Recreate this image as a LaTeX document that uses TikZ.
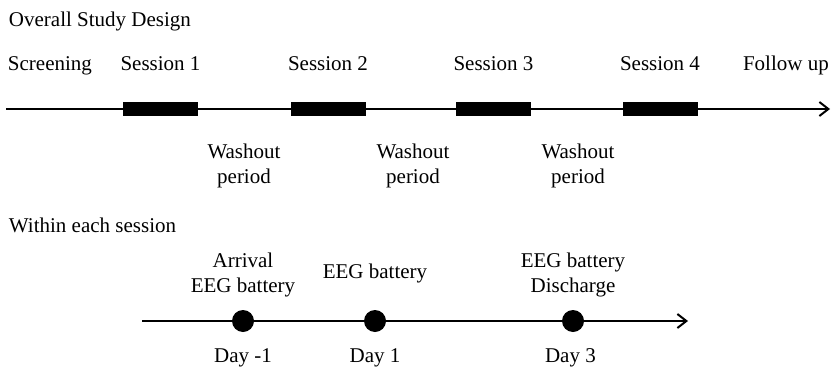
\documentclass[tikz,border=0pt]{standalone}
\usepackage{fontspec}
\setmainfont{Liberation Serif}
\usetikzlibrary{arrows.meta}
\begin{document}
\begin{tikzpicture}[x=1pt,y=-1pt,line width=2pt,>={Straight Barb[length=9pt,width=14pt]},
  txt/.style={font=\fontsize{21}{25}\selectfont,inner sep=0pt,align=center},
  sessbar/.style={fill=black,draw=none,minimum width=75pt,minimum height=14pt,inner sep=0pt},
  daydot/.style={circle,fill=black,minimum size=22pt,inner sep=0pt}]
  \useasboundingbox (0,0) rectangle (832,372);

  % overall study design
  \node[txt,anchor=base west] (overall) at (8,26) {Overall Study Design};
  \coordinate (ts) at (6,109);
  \coordinate (te) at (830,109);
  \draw[->] (ts) -- (te); % main time line

  \node[txt,anchor=base west] (screen) at (7,70) {Screening};
  \node[txt,anchor=base west] (follow) at (742,70) {Follow up};

  \foreach \n/\xs in {1/160.5,2/328,3/493.5,4/660} {
    \node[sessbar] (bar\n) at (\xs,109) {}; % session block
    \node[txt,anchor=base] (sess\n) at (\xs,70) {Session \n};
  }

  \foreach \n/\xw in {1/244,2/413,3/578} {
    \node[txt,anchor=base] (wash\n) at (\xw,183) {Washout\\period}; % base = last line
  }

  % within each session
  \node[txt,anchor=base west] (within) at (8,232) {Within each session};
  \coordinate (ds) at (142,321);
  \coordinate (de) at (688,321);
  \draw[->] (ds) -- (de); % session time line

  \foreach \n/\xd/\yb/\evt/\day in {
    1/243/292/Arrival\\EEG battery/Day -1,
    2/375/278/EEG battery/Day 1,
    3/573/292/EEG battery\\Discharge/Day 3
  }
  {
    \node[daydot] (dot\n) at (\xd,321) {};
    \node[txt,anchor=base] (ev\n) at (\xd,\yb) {\evt};
    \node[txt,anchor=base] (day\n) at (\xd,362) {\day};
  }
\end{tikzpicture}
\end{document}
